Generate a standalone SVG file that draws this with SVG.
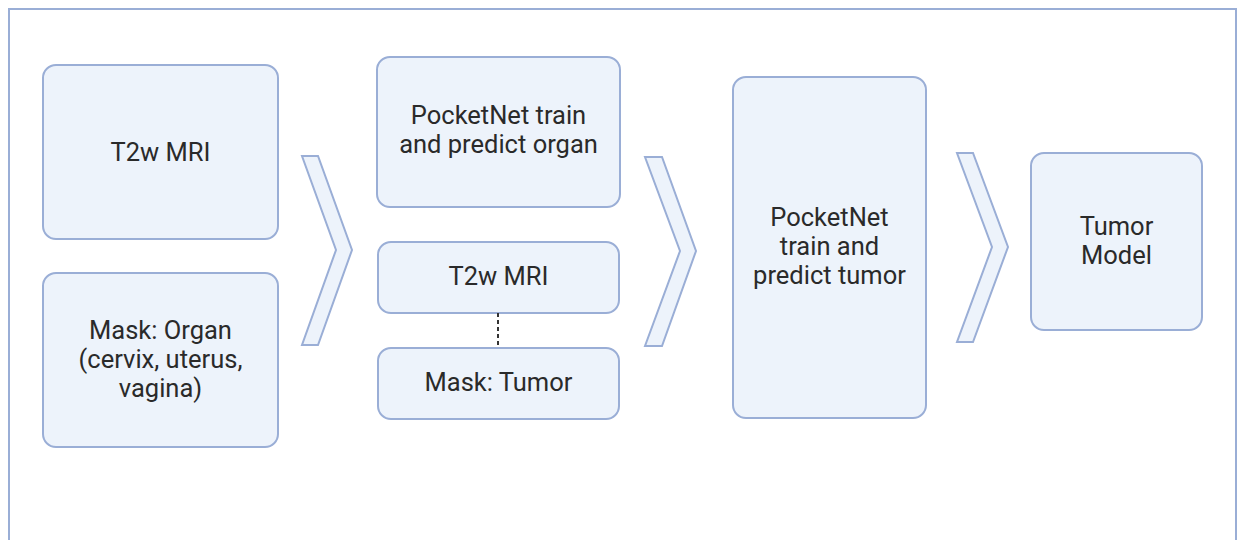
<svg xmlns="http://www.w3.org/2000/svg" width="1238" height="540" viewBox="0 0 1238 540">
<style>
.box{fill:#edf3fb;stroke:#9aaed6;stroke-width:2}
.chev{fill:#edf3fb;stroke:#9aaed6;stroke-width:2;stroke-linejoin:miter}
.t{font-family:Roboto,"Liberation Sans",sans-serif;font-size:25.5px;fill:#2a2a2a;text-anchor:middle}
</style>
<rect x="9" y="9" width="1227" height="560" fill="#fff" stroke="#9aaed6" stroke-width="2"/>
<g id="n1"><rect class="box" x="43" y="65" width="235" height="174" rx="13"/><text class="t" x="160.5" y="161">T2w MRI</text></g>
<g id="n2"><rect class="box" x="43" y="273" width="235" height="174" rx="13"/>
<text class="t" x="160.5" y="339">Mask: Organ</text><text class="t" x="160.5" y="368">(cervix, uterus,</text><text class="t" x="160.5" y="397">vagina)</text></g>
<g id="n3"><rect class="box" x="377" y="57" width="243" height="150" rx="13"/>
<text class="t" x="498.5" y="124">PocketNet train</text><text class="t" x="498.5" y="153">and predict organ</text></g>
<g id="n4"><rect class="box" x="378" y="242" width="241" height="71" rx="13"/><text class="t" x="498.5" y="285">T2w MRI</text></g>
<g id="n5"><rect class="box" x="378" y="348" width="241" height="71" rx="13"/><text class="t" x="498.5" y="391">Mask: Tumor</text></g>
<g id="n6"><rect class="box" x="733" y="77" width="193" height="341" rx="13"/>
<text class="t" x="829.5" y="226">PocketNet</text><text class="t" x="829.5" y="255">train and</text><text class="t" x="829.5" y="284">predict tumor</text></g>
<g id="n7"><rect class="box" x="1031" y="153" width="171" height="177" rx="13"/>
<text class="t" x="1116.5" y="235">Tumor</text><text class="t" x="1116.5" y="264">Model</text></g>
<g id="connectors">
<polygon class="chev" points="302,156 318,156 352,250 318,345 302,345 336,250"/>
<polygon class="chev" points="645,157 662,157 696,251 662,346 645,346 680,251"/>
<polygon class="chev" points="957,153 973,153 1008,247 973,342 957,342 992,247"/>
<line x1="498" y1="313" x2="498" y2="348" stroke="#333" stroke-width="2" stroke-dasharray="4,3"/>
</g>
</svg>
